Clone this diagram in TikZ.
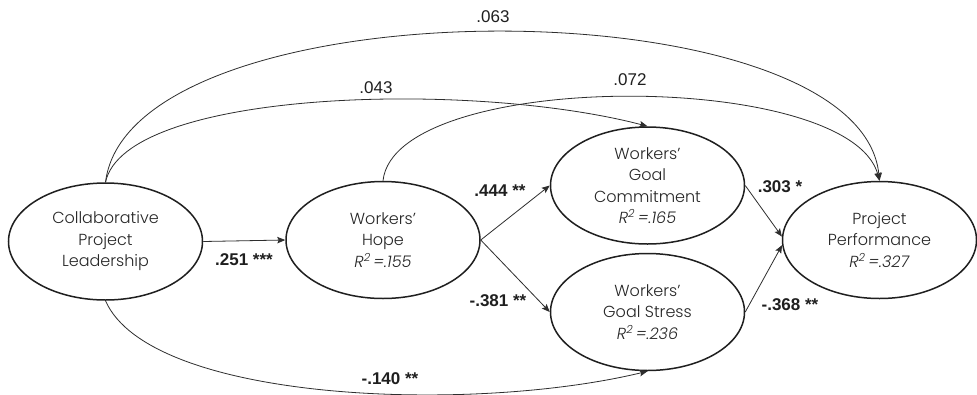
\documentclass[tikz,border=0pt]{standalone}
\usepackage{fontspec}
\setmainfont{Poppins Light}[ItalicFont={Poppins Light Italic}]
\newfontfamily\labelfont{Liberation Sans}
\usetikzlibrary{shapes.geometric,arrows.meta}
\newcommand{\rtwo}[1]{\textit{R\textsuperscript{2}\,=#1}}
\begin{document}
\begin{tikzpicture}[x=1pt,y=-1pt,
  var/.style={ellipse, draw=black!88, line width=1.5pt, minimum width=194pt,
    minimum height=117pt, inner sep=0pt, align=center,
    font=\fontsize{16}{21.5}\selectfont, text=black!85},
  link/.style={draw=black!82, line width=0.8pt,
    -{Stealth[length=8pt,width=6.5pt,inset=1.5pt]}},
  coef/.style={font=\labelfont\fontsize{17}{20}\selectfont\bfseries, text=black!88},
  plaincoef/.style={font=\labelfont\fontsize{17}{20}\selectfont, text=black!88}]
\useasboundingbox (0,0) rectangle (977,394);
\fill[white] (0,0) rectangle (977,394);

% latent variables
\node[var] (cpl)  at (105.5,241.5) {Collaborative\\Project\\Leadership};
\node[var] (hope) at (383,240)     {Workers’\\Hope\\\rtwo{.155}};
\node[var] (gc)   at (647.5,185.5) {Workers’\\Goal\\Commitment\\\rtwo{.165}};
\node[var] (gs)   at (647.5,312)   {Workers’\\Goal Stress\\\rtwo{.236}};
\node[var] (pp)   at (879.5,240)   {Project\\Performance\\\rtwo{.327}};

% direct paths
\draw[link] (cpl.east) -- (hope.west);
\draw[link] (hope.east) -- (gc.west);
\draw[link] (hope.east) -- (gs.west);
\draw[link] (gc.east) -- (pp.178);
\draw[link] (gs.east) -- (pp.183);

% curved paths
\draw[link] (cpl.north) .. controls (130,-18) and (860,-18) .. (pp.north);
\draw[link] (cpl.north) .. controls (125,90) and (470,80) .. (gc.north);
\draw[link] (hope.north) .. controls (395,69) and (850,69) .. (pp.north);
\draw[link] (cpl.south) .. controls (150,402) and (470,414) .. (gs.south);

% path coefficients
\node[coef] (k1) at (244,260) {.251 ***};
\node[coef] (k2) at (500,191) {.444 **};
\node[coef] (k3) at (498,301) {-.381 **};
\node[coef] (k4) at (780,187) {.303 *};
\node[coef] (k5) at (790,305) {-.368 **};
\node[coef] (k6) at (390,379) {-.140 **};
\node[plaincoef] (k7) at (493,17) {.063};
\node[plaincoef] (k8) at (376,88) {.043};
\node[plaincoef] (k9) at (630,80) {.072};
\end{tikzpicture}
\end{document}
